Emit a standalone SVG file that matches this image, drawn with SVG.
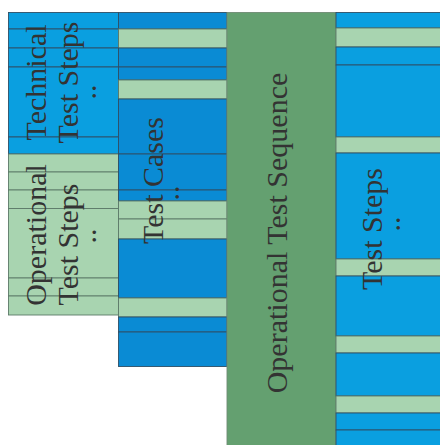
<svg xmlns="http://www.w3.org/2000/svg" width="440" height="445" viewBox="0 0 440 445">
  <style>
    .b1 { fill: #0a9fe0; stroke: #2f4f66; stroke-width: 0.9; }
    .b2 { fill: #0a8bd4; stroke: #2f4f66; stroke-width: 0.9; }
    .g1 { fill: #a8d4b0; stroke: #5c7a68; stroke-width: 0.9; }
    .g2 { fill: #64a070; stroke: #6f8a74; stroke-width: 0.9; }
    .lbl { font-family: "Liberation Serif", "Times New Roman", serif; font-size: 30px; fill: #333333; text-anchor: middle; }
  </style>
  <rect width="440" height="445" fill="#ffffff"/>

  <!-- Technical / operational test steps -->
  <g id="steps-technical">
    <rect class="b1" x="8.5" y="12.5" width="110" height="16.5"/>
    <rect class="b1" x="8.5" y="29" width="110" height="19"/>
    <rect class="b1" x="8.5" y="48" width="110" height="19"/>
    <rect class="b1" x="8.5" y="67" width="110" height="70"/>
    <rect class="b1" x="8.5" y="137" width="110" height="17"/>
    <text class="lbl" x="46" y="82.5" transform="rotate(-90 46 82.5)">Technical</text>
    <text class="lbl" x="78" y="82.5" transform="rotate(-90 78 82.5)">Test Steps</text>
    <text class="lbl" x="96" y="92" transform="rotate(-90 96 92)">..</text>
  </g>
  <g id="steps-operational">
    <rect class="g1" x="8.5" y="154" width="110" height="18"/>
    <rect class="g1" x="8.5" y="172" width="110" height="18"/>
    <rect class="g1" x="8.5" y="190" width="110" height="18.5"/>
    <rect class="g1" x="8.5" y="208.5" width="110" height="69.5"/>
    <rect class="g1" x="8.5" y="278" width="110" height="18"/>
    <rect class="g1" x="8.5" y="296" width="110" height="19"/>
    <text class="lbl" x="46" y="235" transform="rotate(-90 46 235)">Operational</text>
    <text class="lbl" x="78" y="244.5" transform="rotate(-90 78 244.5)">Test Steps</text>
    <text class="lbl" x="96" y="236" transform="rotate(-90 96 236)">..</text>
  </g>

  <!-- Test cases -->
  <g id="test-cases">
    <rect class="b2" x="118.5" y="12.5" width="108.5" height="16.5"/>
    <rect class="g1" x="118.5" y="29" width="108.5" height="19"/>
    <rect class="b2" x="118.5" y="48" width="108.5" height="19"/>
    <rect class="b2" x="118.5" y="67" width="108.5" height="13"/>
    <rect class="g1" x="118.5" y="80" width="108.5" height="19"/>
    <rect class="b2" x="118.5" y="99" width="108.5" height="55"/>
    <rect class="b2" x="118.5" y="154" width="108.5" height="36"/>
    <rect class="b2" x="118.5" y="190" width="108.5" height="11"/>
    <rect class="g1" x="118.5" y="201" width="108.5" height="18"/>
    <rect class="g1" x="118.5" y="219" width="108.5" height="20"/>
    <rect class="b2" x="118.5" y="239" width="108.5" height="59"/>
    <rect class="g1" x="118.5" y="298" width="108.5" height="19"/>
    <rect class="b2" x="118.5" y="317" width="108.5" height="15"/>
    <rect class="b2" x="118.5" y="332" width="108.5" height="34.5"/>
    <text class="lbl" x="163" y="180.5" transform="rotate(-90 163 180.5)">Test Cases</text>
    <text class="lbl" x="179" y="193" transform="rotate(-90 179 193)">..</text>
  </g>

  <!-- Operational test sequence -->
  <g id="test-sequence">
    <rect class="g2" x="227" y="12.5" width="109" height="440"/>
    <text class="lbl" x="287" y="233" transform="rotate(-90 287 233)">Operational Test Sequence</text>
  </g>

  <!-- Test steps -->
  <g id="test-steps">
    <rect class="b1" x="336" y="12.5" width="110" height="15.5"/>
    <rect class="g1" x="336" y="28" width="110" height="19"/>
    <rect class="b1" x="336" y="47" width="110" height="18"/>
    <rect class="b1" x="336" y="65" width="110" height="72"/>
    <rect class="g1" x="336" y="137" width="110" height="16"/>
    <rect class="b1" x="336" y="153" width="110" height="106"/>
    <rect class="g1" x="336" y="259" width="110" height="17"/>
    <rect class="b1" x="336" y="276" width="110" height="60"/>
    <rect class="g1" x="336" y="336" width="110" height="17"/>
    <rect class="b1" x="336" y="353" width="110" height="43"/>
    <rect class="g1" x="336" y="396" width="110" height="17"/>
    <rect class="b1" x="336" y="413" width="110" height="17"/>
    <rect class="b1" x="336" y="430" width="110" height="20"/>
    <text class="lbl" x="382" y="229" transform="rotate(-90 382 229)">Test Steps</text>
    <text class="lbl" x="400" y="224" transform="rotate(-90 400 224)">..</text>
  </g>

  <g id="connectors"/>
</svg>
